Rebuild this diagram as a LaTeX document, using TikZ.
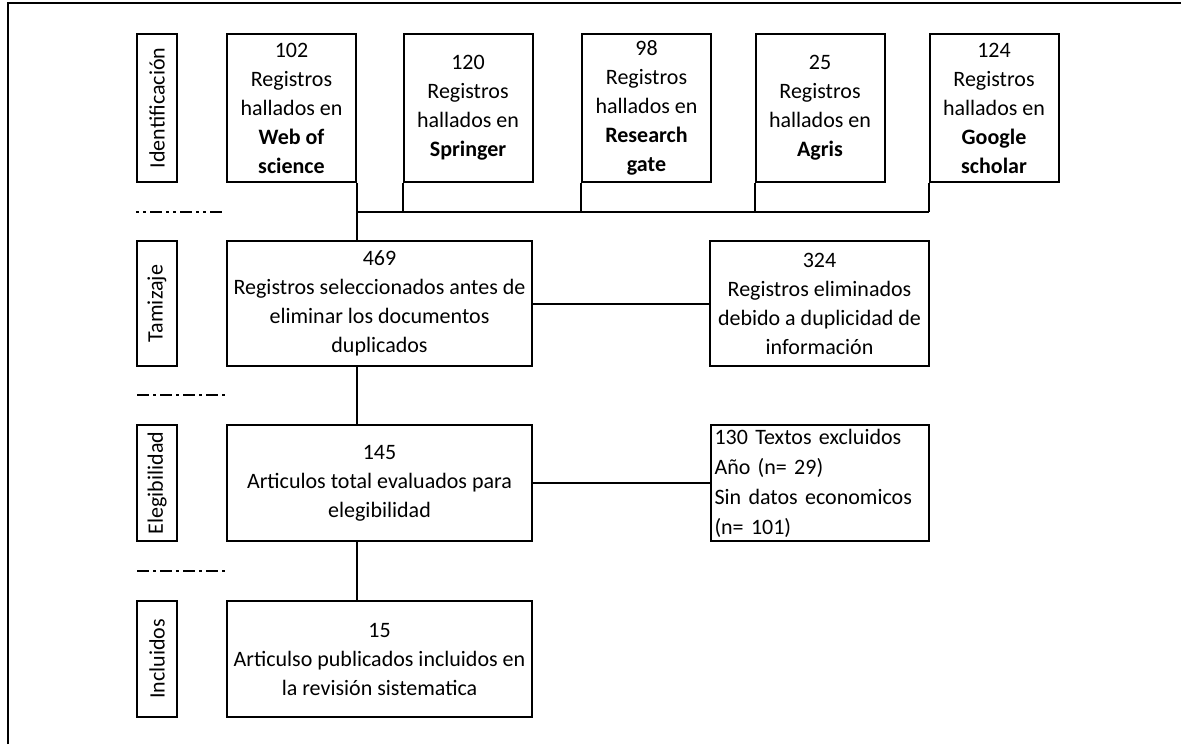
\documentclass[tikz,border=0pt]{standalone}
\usepackage{fontspec}
\setmainfont{Carlito}
\usepackage{tikz}

\begin{document}
\begin{tikzpicture}[x=0.5pt,y=-0.5pt,
                caja/.style={draw=black,line width=1pt,align=center,inner sep=1pt,font=\fontsize{11}{14.5}\selectfont},
                fase/.style={draw=black,line width=1pt,rotate=90,minimum height=20pt,inner sep=0pt,font=\fontsize{11}{14}\selectfont},
                union/.style={line width=1pt},
                corte/.style={line width=1pt,dash pattern=on 6pt off 2pt on 1.5pt off 2pt}
            ]
                \useasboundingbox (0,0) rectangle (1181,744);
                \draw[line width=1.2pt] (8,744) -- (8,3) -- (1181,3);

                % fases
                \node[fase,minimum width=74pt] (ident) at (157,108) {Identificación};
                \node[fase,minimum width=62.5pt] (tamiz) at (157,303.5) {Tamizaje};
                \node[fase,minimum width=58pt] (eleg) at (157,483) {Elegibilidad};
                \node[fase,minimum width=58pt] (inclu) at (157,659) {Incluidos};

                % fuentes
                \foreach \nombre/\x/\n/\base in {wos/291.5/102/{\textbf{Web of}\\\textbf{science}},
                                                 spr/468/120/{\textbf{Springer}},
                                                 rg/646.5/98/{\textbf{Research}\\\textbf{gate}},
                                                 agris/820/25/{\textbf{Agris}},
                                                 gs/994/124/{\textbf{Google}\\\textbf{scholar}}}
                    {
                    \node[caja,minimum width=64.5pt,minimum height=74pt] (\nombre) at (\x,108)
                        {\n\\Registros\\hallados en\\\base};
                }

                \node[caja,minimum width=152.5pt,minimum height=62.5pt] (sel) at (379.5,303.5)
                    {469\\Registros seleccionados antes de\\eliminar los documentos\\duplicados};
                \node[caja,minimum width=109.5pt,minimum height=62.5pt] (dup) at (819.5,303.5)
                    {324\\Registros eliminados\\debido a duplicidad de\\información};
                \node[caja,minimum width=152.5pt,minimum height=58pt] (eval) at (379.5,483)
                    {145\\Articulos total evaluados para\\elegibilidad};
                \node[caja,align=left,text width=105pt,inner sep=2pt,minimum height=58pt,
                      font=\fontsize{11}{15}\selectfont] (excl) at (819.5,483)
                    {130 Textos excluidos\\Año (n= 29)\\Sin datos economicos\\(n= 101)};
                \node[caja,minimum width=152.5pt,minimum height=58pt] (final) at (379.5,659)
                    {15\\Articulso publicados incluidos en\\la revisión sistematica};

                % conexiones
                \coordinate (nivel) at (0,212);
                \draw[union] (wos.south east) -- (wos.south east |- sel.north);
                \draw[union] (wos.south east |- nivel) -- (gs.south west |- nivel);
                \foreach \f in {spr,rg,agris,gs}
                    \draw[union] (\f.south west) -- (\f.south west |- nivel);
                \draw[union] (sel.east) -- (dup.west);
                \draw[union] (sel.south -| wos.south east) -- (eval.north -| wos.south east);
                \draw[union] (eval.east) -- (excl.west);
                \draw[union] (eval.south -| wos.south east) -- (final.north -| wos.south east);

                \draw[corte,dash pattern=on 1.5pt off 2pt on 1.5pt off 2pt on 6pt off 2pt]
                    (ident.north |- nivel) -- (wos.west |- nivel);
                \draw[corte] (137,395) -- (227,395);
                \draw[corte] (137,571) -- (227,571);

            \end{tikzpicture}
\end{document}
